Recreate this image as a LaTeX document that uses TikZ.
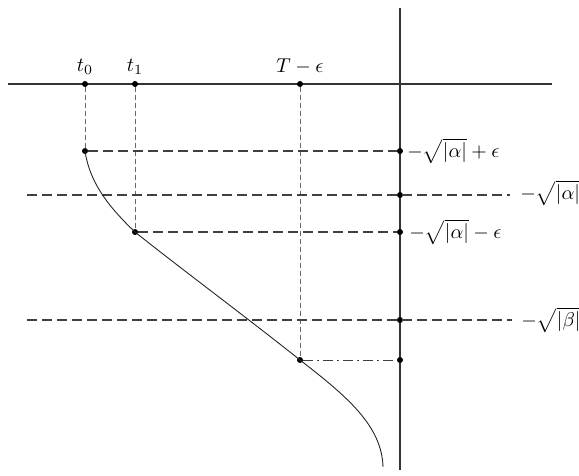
\documentclass[tikz,border=0pt]{standalone}
\begin{document}
\begin{tikzpicture}[x=0.5pt,y=-0.5pt,
  dot/.style={circle,fill=black,inner sep=0pt,minimum size=3pt},
  axisline/.style={line width=0.6pt,black!80},
  vdash/.style={dash pattern=on 2.5pt off 1.5pt,black!60,line width=0.5pt},
  hdash/.style={dash pattern=on 5pt off 2.5pt,black!75,line width=0.6pt},
  hdashdot/.style={dash pattern=on 5pt off 2pt on 1pt off 2pt,black!75,line width=0.5pt},
  lbl/.style={inner sep=0pt}]
\useasboundingbox (0,0) rectangle (579,476);
% axes
\coordinate (hl) at (8,84);
\coordinate (hr) at (552,84);
\coordinate (vt) at (400,8);
\coordinate (vb) at (400,470);
\draw[axisline] (hl) -- (hr);
\draw[axisline] (vt) -- (vb);
% points on time axis
\node[dot] (a0) at (85,84) {};
\node[dot] (a1) at (135,84) {};
\node[dot] (a2) at (300,84) {};
% curve points
\node[dot] (c0) at (85,151) {};
\node[dot] (c1) at (135,232) {};
\node[dot] (c2) at (300,360) {};
% points on vertical axis
\node[dot] (v1) at (400,151) {};
\node[dot] (v2) at (400,195) {};
\node[dot] (v3) at (400,232) {};
\node[dot] (v4) at (400,320) {};
\node[dot] (v5) at (400,360) {};
% line ends
\coordinate (l2a) at (27,195);
\coordinate (l2b) at (510,195);
\coordinate (l4a) at (27,320);
\coordinate (l4b) at (512,320);
\coordinate (cend) at (383,467);
% labels
\node[lbl,above] at (a0.north) [yshift=3pt] {$t_0$};
\node[lbl,above] at (a1.north) [yshift=3pt] {$t_1$};
\node[lbl,above] at (a2.north) [yshift=3pt] {$T-\epsilon$};
\node[lbl,anchor=west] at (407,151) {$-\sqrt{|\alpha|}+\epsilon$};
\node[lbl,anchor=west] at (520,193) {$-\sqrt{|\alpha|}$};
\node[lbl,anchor=west] at (409,232) {$-\sqrt{|\alpha|}-\epsilon$};
\node[lbl,anchor=west] at (521,320) {$-\sqrt{|\beta|}$};
% vertical dashed
\draw[vdash] (a0) -- (c0);
\draw[vdash] (a1) -- (c1);
\draw[vdash] (a2) -- (c2);
% horizontal dashed
\draw[hdash] (c0) -- (v1);
\draw[hdash] (l2a) -- (l2b);
\draw[hdash] (c1) -- (v3);
\draw[hdash] (l4a) -- (l4b);
\draw[hdashdot] (c2) -- (v5);
% curve
\draw[line width=0.45pt,black!85]
  (c0.center) .. controls (90,185) and (112,210) .. (c1.center)
  .. controls (180,268) and (250,320) .. (c2.center)
  .. controls (345,395) and (382,425) .. (cend);
\end{tikzpicture}
\end{document}
